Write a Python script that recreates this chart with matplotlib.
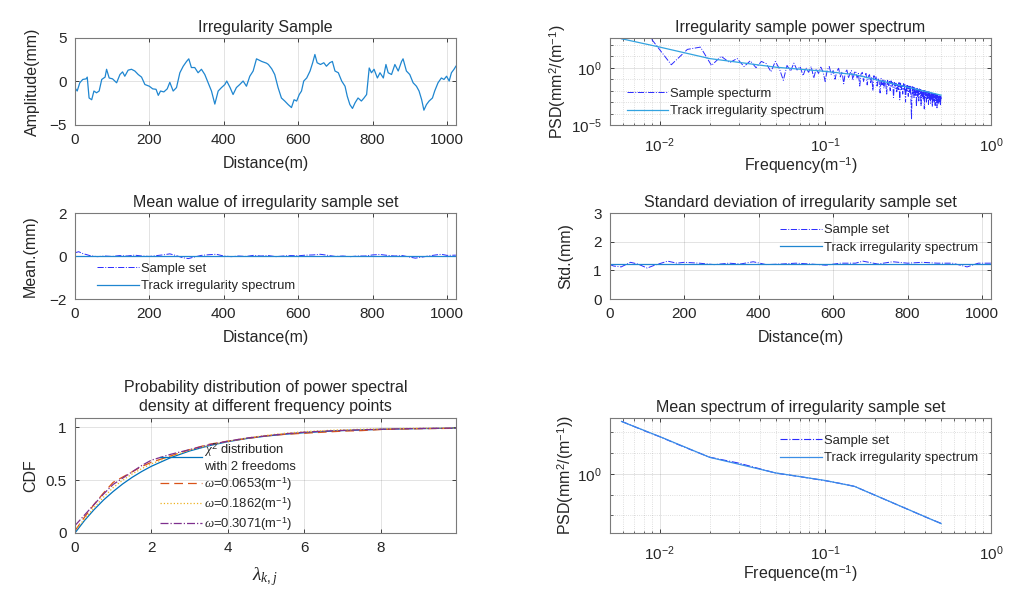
import numpy as np
import matplotlib
matplotlib.use("Agg")
import matplotlib.pyplot as plt
from matplotlib.ticker import LogLocator, NullFormatter

plt.rcParams['font.family'] = ['Liberation Sans', 'DejaVu Sans']
plt.rcParams['mathtext.fontset'] = 'custom'
plt.rcParams['mathtext.rm'] = 'Liberation Sans'
plt.rcParams['mathtext.it'] = 'Liberation Serif:italic'
plt.rcParams['font.size'] = 11
plt.rcParams['text.color'] = '#262626'
plt.rcParams['axes.labelcolor'] = '#262626'
plt.rcParams['xtick.color'] = '#262626'
plt.rcParams['ytick.color'] = '#262626'

C_TRACK = '#1f86d0'
C_SAMPLE = '#2a2aff'

# ---- irregularity sample (distance m, amplitude mm)
dist = [0, 6, 13, 21, 30, 33, 38, 45, 51, 58, 65, 72, 81, 85, 92, 101, 112, 121, 128, 134,
        143, 152, 161, 170, 179, 188, 200, 209, 218, 224, 230, 239, 248, 255, 264, 273, 282,
        291, 300, 306, 313, 322, 331, 340, 349, 358, 367, 376, 385, 394, 403, 408, 417, 425,
        434, 443, 452, 461, 470, 479, 488, 502, 515, 520, 529, 537, 546, 555, 564, 573, 582,
        589, 596, 603, 609, 615, 623, 632, 639, 645, 651, 660, 669, 676, 685, 692, 699, 708,
        717, 726, 732, 739, 746, 753, 761, 770, 777, 784, 791, 797, 804, 813, 820, 829, 836,
        842, 851, 860, 869, 878, 882, 891, 900, 909, 918, 925, 932, 938, 945, 952, 961, 967,
        976, 985, 992, 999, 1006, 1012, 1019, 1024]
amp = [-0.73, -1.1, -0.15, 0.23, 0.3, 0.5, -1.9, -2.1, -1.1, -1.3, -1.1, 0.23, 0.5, 1.4, 0.4,
       0.3, -0.15, 0.8, 1.1, 0.6, 1.3, 1.4, 1.2, 0.8, 0.5, -0.35, -0.55, -0.85, -0.9, -1.6,
       -1.1, -1.2, -0.85, -0.1, -1.1, -0.7, 1.0, 1.75, 2.3, 2.6, 1.6, 1.6, 1.0, 1.4, 0.8,
       -0.15, -1.1, -2.6, -1.1, -0.7, -0.35, 0.05, -0.7, -1.5, -0.7, -0.35, 0.05, -0.55, 0.6,
       1.2, 2.6, 2.3, 2.1, 1.95, 1.45, 0.8, -0.7, -1.9, -2.25, -2.65, -3.0, -2.1, -2.25, -1.5,
       -1.1, 0.05, 0.4, 1.2, 2.15, 3.1, 2.15, 1.95, 2.15, 1.75, 2.15, 2.3, 1.2, 1.0, 0.05,
       -0.55, -1.7, -2.65, -3.1, -2.45, -1.9, -2.25, -1.9, -1.5, 1.55, 1.0, 1.4, 0.4, 1.0, 0.4,
       1.95, 1.0, 0.8, 1.95, 1.2, 2.3, 2.6, 1.2, 0.8, -0.15, -0.55, -1.1, -2.1, -3.3, -2.65,
       -2.25, -1.9, -1.1, -0.15, 0.4, 0.23, 0.6, 0.05, 1.0, 1.4, 1.75]

# ---- power spectrum of the sample
freq_sample = np.arange(2, 172) / 341.0
sample_psd_exp = [
    2.53, 2.60, 0.26, 1.60, 1.80, 0.20, 1.00, 0.45, 0.80, 0.10,
    0.60, 0.00, 0.55, 0.35, -0.35, 0.55, -0.10, -1.10, 0.20, -0.30,
    0.40, -0.20, 0.10, -0.70, 0.00, -0.40, 0.10, -0.90, -0.10, -0.50,
    0.05, -0.35, -1.20, -0.20, 0.10, -0.60, -0.25, -1.00, -0.30, -0.05,
    -0.80, -0.35, -1.40, -0.40, -0.20, -0.90, -0.50, -0.25, -1.10, -0.45,
    -0.30, -0.90, -0.50, -1.60, -0.55, -0.40, -1.20, -0.70, -0.50, -1.50,
    -0.75, -0.60, -1.30, -0.80, -2.00, -0.70, -1.10, -0.80, -1.60, -0.90,
    -1.20, -2.20, -0.95, -1.50, -1.00, -1.80, -1.05, -1.40, -2.30, -1.10,
    -1.60, -1.20, -2.00, -1.15, -1.70, -1.30, -2.60, -1.30, -1.80, -1.35,
    -2.10, -1.40, -1.90, -1.30, -2.80, -1.35, -1.90, -1.55, -2.30, -1.40,
    -2.00, -1.45, -3.00, -1.50, -2.10, -1.55, -2.50, -1.60, -2.20, -1.55,
    -2.60, -4.50, -1.65, -2.30, -1.70, -2.60, -1.75, -2.40, -1.80, -3.40,
    -1.80, -2.50, -1.85, -2.90, -1.85, -2.40, -1.90, -3.30, -1.95, -2.50,
    -1.95, -2.80, -2.00, -3.60, -2.00, -2.60, -2.05, -3.00, -2.10, -2.70,
    -2.05, -3.20, -2.10, -2.75, -2.15, -3.10, -2.15, -2.80, -2.20, -3.40,
    -2.20, -2.90, -2.25, -3.00, -2.25, -3.30, -2.30, -2.90, -2.30, -3.50,
    -2.35, -3.00, -2.35, -3.20, -2.40, -3.00, -2.40, -3.30, -2.45, -2.75]
sample_psd = 10.0 ** np.array(sample_psd_exp)

# track irregularity spectrum (breakpoints)
freq_track = [0.00587, 0.01, 0.02, 0.05, 0.1, 0.15, 0.5]
psd_track = [339, 63, 6.3, 1.12, 0.48, 0.25, 0.004]

# ---- mean / std of sample set
dist_mean = [0, 10, 20, 40, 60, 80, 100, 120, 140, 160, 180, 200, 220, 240, 255, 270, 290, 305,
             320, 340, 360, 380, 400, 420, 440, 460, 480, 500, 520, 540, 560, 580, 600, 620, 640,
             660, 680, 700, 720, 740, 760, 780, 800, 820, 840, 860, 880, 900, 915, 930, 950, 970,
             985, 1000, 1024]
mean_sample = [0.15, 0.2, 0.12, 0.02, -0.03, 0.0, -0.02, 0.02, 0.0, 0.04, 0.0, -0.02, 0.02, 0.06,
               0.1, 0.03, -0.08, -0.12, -0.05, 0.03, 0.06, 0.08, 0.0, -0.03, 0.0, -0.02, 0.03, 0.0,
               0.02, -0.03, 0.0, 0.02, 0.01, 0.04, 0.05, 0.08, 0.03, -0.02, 0.0, -0.03, 0.0, 0.0,
               0.05, 0.07, 0.03, 0.0, 0.02, -0.05, -0.1, -0.06, 0.0, 0.05, 0.08, 0.03, 0.04]
mean_track = 0.02

dist_std = [0, 10, 30, 55, 75, 100, 120, 155, 180, 200, 240, 280, 320, 350, 385, 420, 460, 500,
            540, 580, 620, 660, 680, 720, 760, 800, 840, 880, 920, 960, 990, 1024]
std_sample = [1.2, 1.15, 1.12, 1.28, 1.22, 1.08, 1.18, 1.32, 1.25, 1.28, 1.25, 1.2, 1.25, 1.22,
              1.3, 1.2, 1.22, 1.25, 1.22, 1.18, 1.25, 1.25, 1.32, 1.22, 1.3, 1.25, 1.28, 1.25,
              1.25, 1.12, 1.25, 1.25]
std_track = 1.22

# ---- CDF at frequency points
lam = [0, 0.25, 0.5, 0.75, 1.0, 1.25, 1.5, 1.75, 2.0, 2.5, 3.0, 3.5, 4.0, 4.5, 5.0, 5.5, 6.0,
       6.5, 7.0, 7.5, 8.0, 8.5, 9.0, 9.5, 10.0]
cdf_chi2 = [0.0, 0.118, 0.221, 0.313, 0.393, 0.465, 0.528, 0.583, 0.632, 0.713, 0.777, 0.826,
            0.865, 0.895, 0.918, 0.936, 0.950, 0.961, 0.970, 0.976, 0.982, 0.986, 0.989, 0.991,
            0.993]
cdf_w1 = [0.02, 0.15, 0.27, 0.38, 0.48, 0.53, 0.58, 0.63, 0.67, 0.73, 0.79, 0.84, 0.87, 0.895,
          0.92, 0.935, 0.945, 0.955, 0.965, 0.97, 0.98, 0.985, 0.988, 0.99, 0.992]
cdf_w2 = [0.03, 0.13, 0.24, 0.34, 0.43, 0.5, 0.56, 0.61, 0.655, 0.725, 0.785, 0.83, 0.87, 0.9,
          0.925, 0.945, 0.96, 0.97, 0.978, 0.983, 0.987, 0.99, 0.992, 0.994, 0.995]
cdf_w3 = [0.07, 0.17, 0.27, 0.37, 0.46, 0.52, 0.58, 0.64, 0.69, 0.745, 0.79, 0.835, 0.87, 0.9,
          0.92, 0.94, 0.955, 0.965, 0.972, 0.978, 0.983, 0.987, 0.99, 0.992, 0.994]

# ---- mean spectrum of sample set
freq_mean = [0.00587, 0.008, 0.01, 0.013, 0.016, 0.02, 0.03, 0.05, 0.07, 0.1, 0.13, 0.15, 0.2,
             0.3, 0.4, 0.5]
psd_mean = [345, 124, 62, 25.5, 13, 6.4, 3.3, 1.1, 0.74, 0.47, 0.32, 0.25, 0.093, 0.023, 0.0085,
            0.0041]

TITLE_FS = 11.5
LABEL_FS = 11.5
TICK_FS = 11


def style(ax, xpad=6):
    for s in ax.spines.values():
        s.set_color('#7a7a7a')
        s.set_linewidth(0.8)
    ax.tick_params(direction='in', top=True, right=True, length=3, width=0.6,
                   labelsize=TICK_FS, pad=6)
    ax.tick_params(axis='x', pad=xpad)
    ax.tick_params(which='minor', direction='in', top=True, right=True, length=1.8, width=0.5)
    ax.grid(True, which='major', color='#262626', alpha=0.13, lw=0.7)


def log_axes(ax, ymin, ymax):
    ax.set_xscale('log')
    ax.set_yscale('log')
    ax.set_xlim(0.005, 1)
    ax.set_ylim(ymin, ymax)
    ax.xaxis.set_major_locator(LogLocator(base=10, numticks=10))
    ax.xaxis.set_minor_locator(LogLocator(base=10, subs=np.arange(2, 10), numticks=20))
    ax.xaxis.set_minor_formatter(NullFormatter())
    ax.yaxis.set_major_locator(plt.FixedLocator([1e-5, 1e0, 1e5]))
    ax.yaxis.set_minor_locator(plt.FixedLocator([10.0 ** e for e in range(-6, 6)]))
    ax.yaxis.set_minor_formatter(NullFormatter())
    ax.grid(True, which='minor', color='#262626', alpha=0.2, lw=0.6, ls=':')


fig = plt.figure(figsize=(10.24, 5.92), dpi=100)
L1, L2, W = 0.0732, 0.5957, 0.372
rows = [(0.7889, 0.147), (0.4949, 0.1453), (0.0997, 0.1943)]

leg_kw = dict(frameon=False, fontsize=9.4, handlelength=3.2, handletextpad=0.15,
              borderaxespad=0.0, labelspacing=0.4)

# (1) irregularity sample
ax1 = fig.add_axes([L1, rows[0][0], W, rows[0][1]])
ax1.plot(dist, amp, color=C_TRACK, lw=0.9)
ax1.set_xlim(0, 1024)
ax1.set_ylim(-5, 5)
ax1.set_yticks([-5, 0, 5])
ax1.set_xticks([0, 200, 400, 600, 800, 1000])
ax1.set_title('Irregularity Sample', fontsize=TITLE_FS, pad=4)
ax1.set_xlabel('Distance(m)', fontsize=LABEL_FS, labelpad=6)
ax1.set_ylabel('Amplitude(mm)', fontsize=LABEL_FS, labelpad=7)
style(ax1)

# (2) irregularity sample power spectrum
ax2 = fig.add_axes([L2, rows[0][0], W, rows[0][1]])
ax2.plot(freq_sample, sample_psd, color=C_SAMPLE, lw=0.7, ls='-.', label='Sample specturm')
ax2.plot(freq_track, psd_track, color='#33a3e0', lw=0.9, label='Track irregularity spectrum')
log_axes(ax2, 1e-5, 10 ** 2.6)
ax2.set_title('Irregularity sample power spectrum', fontsize=TITLE_FS, pad=4)
ax2.set_xlabel('Frequency(m$^{-1}$)', fontsize=LABEL_FS, labelpad=0)
ax2.set_ylabel('PSD(mm$^2$/(m$^{-1}$)', fontsize=LABEL_FS, labelpad=2)
style(ax2, xpad=8)
ax2.legend(loc='lower left', bbox_to_anchor=(0.03, 0.03), **leg_kw)

# (3) mean value
ax3 = fig.add_axes([L1, rows[1][0], W, rows[1][1]])
ax3.plot(dist_mean, mean_sample, color=C_SAMPLE, lw=0.7, ls='-.', label='Sample set')
ax3.plot([0, 1024], [mean_track, mean_track], color=C_TRACK, lw=0.9,
         label='Track irregularity spectrum')
ax3.set_xlim(0, 1024)
ax3.set_ylim(-2, 2)
ax3.set_yticks([-2, 0, 2])
ax3.set_xticks([0, 200, 400, 600, 800, 1000])
ax3.set_title('Mean walue of irregularity sample set', fontsize=TITLE_FS, pad=4)
ax3.set_xlabel('Distance(m)', fontsize=LABEL_FS, labelpad=6)
ax3.set_ylabel('Mean.(mm)', fontsize=LABEL_FS, labelpad=8)
style(ax3)
ax3.legend(loc='lower left', bbox_to_anchor=(0.045, 0.02), **leg_kw)

# (4) standard deviation
ax4 = fig.add_axes([L2, rows[1][0], W, rows[1][1]])
ax4.plot(dist_std, std_sample, color=C_SAMPLE, lw=0.7, ls='-.', label='Sample set')
ax4.plot([0, 1024], [std_track, std_track], color=C_TRACK, lw=0.9,
         label='Track irregularity spectrum')
ax4.set_xlim(0, 1024)
ax4.set_ylim(0, 3)
ax4.set_yticks([0, 1, 2, 3])
ax4.set_xticks([0, 200, 400, 600, 800, 1000])
ax4.set_title('Standard deviation of irregularity sample set', fontsize=TITLE_FS, pad=4)
ax4.set_xlabel('Distance(m)', fontsize=LABEL_FS, labelpad=6)
ax4.set_ylabel('Std.(mm)', fontsize=LABEL_FS, labelpad=14)
style(ax4)
ax4.legend(loc='upper right', bbox_to_anchor=(0.98, 0.93), **leg_kw)

# (5) CDF
ax5 = fig.add_axes([L1, rows[2][0], W, rows[2][1]])
ax5.plot(lam, cdf_chi2, color='#0072BD', lw=0.9, label='$\\chi^2$ distribution\nwith 2 freedoms')
ax5.plot(lam, cdf_w1, color='#D95319', lw=0.9, ls=(0, (7, 4)),
         label='$\\mathit{\\omega}$=0.0653(m$^{-1}$)')
ax5.plot(lam, cdf_w2, color='#EDB120', lw=0.9, ls=':',
         label='$\\mathit{\\omega}$=0.1862(m$^{-1}$)')
ax5.plot(lam, cdf_w3, color='#7E2F8E', lw=0.9, ls='-.',
         label='$\\mathit{\\omega}$=0.3071(m$^{-1}$)')
ax5.set_xlim(0, 9.97)
ax5.set_ylim(0, 1.09)
ax5.set_yticks([0, 0.5, 1])
ax5.set_yticklabels(['0', '0.5', '1'])
ax5.set_xticks([0, 2, 4, 6, 8])
ax5.set_title('Probability distribution of power spectral\ndensity at different frequency points',
              fontsize=TITLE_FS, pad=5, linespacing=1.35)
ax5.set_xlabel('$\\mathit{\\lambda_{k,j}}$', fontsize=14, labelpad=7)
ax5.set_ylabel('CDF', fontsize=LABEL_FS, labelpad=5)
style(ax5)
ax5.legend(loc='lower left', bbox_to_anchor=(0.21, -0.045),
           **dict(leg_kw, labelspacing=0.2))

# (6) mean spectrum
ax6 = fig.add_axes([L2, rows[2][0], W, rows[2][1]])
ax6.plot(freq_mean, psd_mean, color=C_SAMPLE, lw=0.8, ls='-.', label='Sample set')
ax6.plot(freq_track, psd_track, color='#3a8ee6', lw=0.9, label='Track irregularity spectrum')
log_axes(ax6, 10 ** -2.85, 10 ** 2.7)
ax6.set_title('Mean spectrum of irregularity sample set', fontsize=TITLE_FS, pad=4)
ax6.set_xlabel('Frequence(m$^{-1}$)', fontsize=LABEL_FS, labelpad=0)
ax6.set_ylabel('PSD(mm$^2$/(m$^{-1}$))', fontsize=LABEL_FS, labelpad=1)
style(ax6, xpad=8)
ax6.legend(loc='upper right', bbox_to_anchor=(0.98, 0.9), **leg_kw)

fig.savefig('out.png', dpi=100, facecolor='white')
